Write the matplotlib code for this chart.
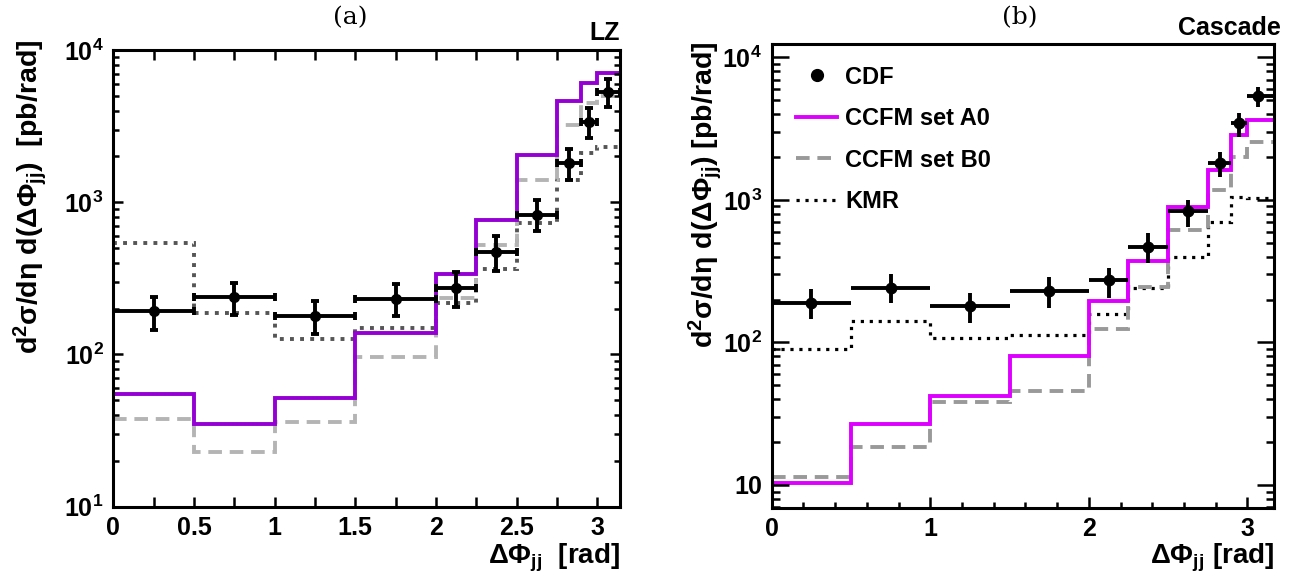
import numpy as np
import matplotlib.pyplot as plt
from matplotlib.ticker import FixedLocator, MultipleLocator, NullFormatter

plt.rcParams['font.family'] = 'Liberation Sans'
plt.rcParams['font.weight'] = 'bold'
plt.rcParams['mathtext.fontset'] = 'custom'
plt.rcParams['mathtext.rm'] = 'Liberation Sans:bold'
plt.rcParams['mathtext.bf'] = 'Liberation Sans:bold'
plt.rcParams['mathtext.it'] = 'Liberation Sans:bold'
plt.rcParams['mathtext.default'] = 'bf'

# delta phi binning and CDF points
edges = [0, 0.5, 1.0, 1.5, 2.0, 2.25, 2.5, 2.75, 2.9, 3.0, np.pi]
edges_r = [0, 0.5, 1.0, 1.5, 2.0, 2.25, 2.5, 2.75, 2.9, 3.0, 3.17]
phi_pts = [0.25, 0.75, 1.25, 1.75, 2.125, 2.375, 2.625, 2.825, 2.95, 3.07]

# (a) LZ
cdf_lz = [192, 239, 179, 230, 272, 472, 830, 1808, 3390, 5330]
cdf_lz_lo = [144, 183, 137, 179, 204, 352, 644, 1406, 2640, 4250]
cdf_lz_hi = [240, 293, 224, 289, 346, 598, 1040, 2243, 4150, 6460]
lz_a0 = [55.4, 34.9, 52, 138, 340, 769, 2050, 4630, 6050, 7040]
lz_b0 = [37.4, 23.0, 35.8, 96, 236, 520, 1406, 3225, 4480, 5000]
lz_kmr = [541, 188, 127, 149, 219, 366, 731, 1406, 2100, 2300]

# (b) Cascade
cdf_casc = [190, 240, 179, 228, 275, 471, 838, 1807, 3445, 5380]
cdf_casc_lo = [146, 188, 136, 175, 205, 361, 646, 1450, 2770, 4500]
cdf_casc_hi = [236, 300, 221, 290, 333, 587, 1000, 2170, 4080, 6220]
casc_a0 = [10.4, 26.8, 41.8, 81, 196, 373, 897, 1622, 2852, 3637]
casc_b0 = [11.4, 18.4, 38.4, 45.8, 124, 247, 616, 1175, 2010, 2565]
casc_kmr = [89.8, 141, 108, 113, 158, 240, 401, 704, 1053, 1028]

ylab_l = 'd$^{2}$σ/dη d(ΔΦ$_{jj}$)  [pb/rad]'
ylab_r = 'd$^{2}$σ/dη d(ΔΦ$_{jj}$) [pb/rad]'

fig = plt.figure(figsize=(12.89, 5.87), dpi=100)
axl = fig.add_axes([0.0879, 0.1368, 0.3931, 0.778])
axr = fig.add_axes([0.5987, 0.1351, 0.3899, 0.790])

x = np.array(phi_pts)
xerr = [x - np.array(edges[:-1]), np.array(edges[1:]) - x]
xerr_r = [x - np.array(edges_r[:-1]), np.array(edges_r[1:]) - x]

# ---- left panel
axl.stairs(lz_kmr, edges, baseline=None, color='#555555', lw=2.8, ls=(0, (1, 1.6)))
axl.stairs(lz_b0, edges, baseline=None, color='#b4b4b4', lw=2.8, ls=(0, (3.5, 2)))
axl.stairs(lz_a0, edges, baseline=None, color='#9400d3', lw=2.8)
y = np.array(cdf_lz)
yerr = [y - np.array(cdf_lz_lo), np.array(cdf_lz_hi) - y]
axl.errorbar(x, y, xerr=xerr, yerr=yerr, fmt='o', color='black', ms=7,
             elinewidth=2.8, capsize=3, capthick=2.8)
axl.set_yscale('log')
axl.set_xlim(0, np.pi)
axl.set_ylim(10, 1e4)
axl.xaxis.set_major_locator(FixedLocator([0, 0.5, 1, 1.5, 2, 2.5, 3]))
axl.set_xticklabels(['0', '0.5', '1', '1.5', '2', '2.5', '3'])
axl.xaxis.set_minor_locator(MultipleLocator(0.25))
axl.yaxis.set_major_locator(FixedLocator([10, 100, 1000, 10000]))
axl.set_yticklabels(['$10^{1}$', '$10^{2}$', '$10^{3}$', '$10^{4}$'])
axl.yaxis.set_minor_locator(FixedLocator([m * 10**d for d in range(1, 4) for m in range(2, 10)]))
axl.yaxis.set_minor_formatter(NullFormatter())
axl.tick_params(which='both', direction='in', top=True, right=True, width=1.8, labelsize=18, pad=7)
axl.tick_params(which='major', length=7)
axl.tick_params(which='minor', length=4)
axl.tick_params(axis='x', which='minor', length=7)
for s in axl.spines.values():
    s.set_linewidth(2.2)
axl.text(1.0, -0.125, 'ΔΦ$_{jj}$  [rad]', transform=axl.transAxes, ha='right', va='baseline', fontsize=20)
fig.text(350 / 1289, 1 - 18 / 587, '(a)', ha='center', va='center', fontsize=18,
         family='DejaVu Serif', weight='normal')
fig.text(620 / 1289, 1 - 33 / 587, 'LZ', ha='right', va='center', fontsize=18)
fig.text(30 / 1289, 1 - 40 / 587, ylab_l, rotation=90, ha='center', va='top', fontsize=20.5)

# ---- right panel
axr.stairs(casc_kmr, edges_r, baseline=None, color='black', lw=2.3, ls=(0, (1, 1.8)), label='KMR')
axr.stairs(casc_b0, edges_r, baseline=None, color='#999999', lw=2.8, ls=(0, (3.5, 2)), label='CCFM set B0')
axr.stairs(casc_a0, edges_r, baseline=None, color='#dd00ff', lw=2.8, label='CCFM set A0')
y = np.array(cdf_casc)
yerr = [y - np.array(cdf_casc_lo), np.array(cdf_casc_hi) - y]
axr.errorbar(x, y, xerr=xerr_r, yerr=yerr, fmt='o', color='black', ms=7.5,
             elinewidth=2.8, capsize=0, label='CDF')
axr.set_yscale('log')
axr.set_xlim(0, 3.17)
axr.set_ylim(6.93, 12435)
axr.xaxis.set_major_locator(FixedLocator([0, 1, 2, 3]))
axr.set_xticklabels(['0', '1', '2', '3'])
axr.xaxis.set_minor_locator(MultipleLocator(0.2))
axr.yaxis.set_major_locator(FixedLocator([10, 100, 1000, 10000]))
axr.set_yticklabels(['10', '$10^{2}$', '$10^{3}$', '$10^{4}$'])
axr.yaxis.set_minor_locator(FixedLocator([m * 10**d for d in range(0, 4) for m in range(2, 10)]))
axr.yaxis.set_minor_formatter(NullFormatter())
axr.tick_params(which='both', direction='in', right=True, width=1.8, labelsize=18, pad=7)
axr.tick_params(axis='y', which='major', length=12)
axr.tick_params(axis='y', which='minor', length=6)
axr.tick_params(axis='x', which='major', length=8)
axr.tick_params(axis='x', which='minor', length=4)
for s in axr.spines.values():
    s.set_linewidth(2.2)
axr.text(1.0, -0.12, 'ΔΦ$_{jj}$ [rad]', transform=axr.transAxes, ha='right', va='baseline', fontsize=20)
fig.text(1020 / 1289, 1 - 18 / 587, '(b)', ha='center', va='center', fontsize=18,
         family='DejaVu Serif', weight='normal')
fig.text(1281 / 1289, 1 - 28 / 587, 'Cascade', ha='right', va='center', fontsize=18)
fig.text(705 / 1289, 1 - 42 / 587, ylab_r, rotation=90, ha='center', va='top', fontsize=20.5)

h, l = axr.get_legend_handles_labels()
order = [l.index('CDF'), l.index('CCFM set A0'), l.index('CCFM set B0'), l.index('KMR')]
h_cdf = plt.Line2D([], [], marker='o', color='black', ls='none', ms=8.5)
handles = [h_cdf] + [h[i] for i in order[1:]]
labels = [l[i] for i in order]
axr.legend(handles, labels, loc='upper left', bbox_to_anchor=(0.048, 0.953), frameon=False,
           fontsize=17, handlelength=1.75, handletextpad=0.35, labelspacing=0.78,
           borderpad=0, borderaxespad=0)

fig.savefig('out.png', dpi=100)
